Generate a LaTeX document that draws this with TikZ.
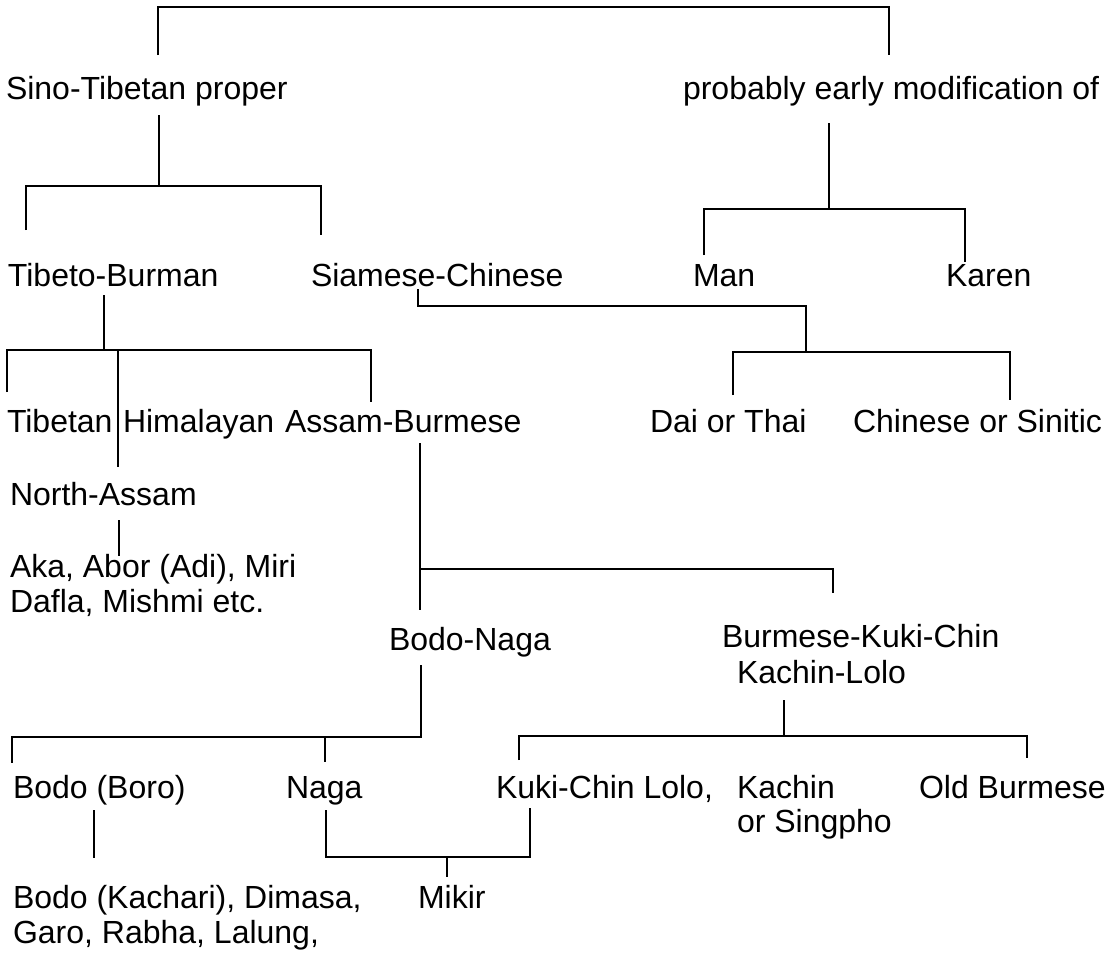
\documentclass[tikz,border=0pt]{standalone}
\usepackage{fontspec}
\setmainfont{Liberation Sans}
\begin{document}
\begin{tikzpicture}[x=1pt,y=-1pt,
  lbl/.style={anchor=base west,inner sep=0pt,outer sep=0pt,font=\fontsize{32}{36}\selectfont},
  ln/.style={line width=1.6pt,line join=miter}]
\fill[white] (0,0) rectangle (1118,954);
\useasboundingbox (0,0) rectangle (1118,954);
% texts
\node[lbl] (sino) at (6,99) {Sino-Tibetan proper};
\node[lbl] (prob) at (683,99) {probably early modification of};
\node[lbl] (tb) at (8,286) {Tibeto-Burman};
\node[lbl] (sc) at (311,286) {Siamese-Chinese};
\node[lbl] (man) at (693,286) {Man};
\node[lbl] (karen) at (946,286) {Karen};
\node[lbl] (tib) at (7,432) {Tibetan};
\node[lbl] (him) at (123,432) {Himalayan};
\node[lbl] (ab) at (285,432) {Assam-Burmese};
\node[lbl] (dai) at (650,432) {Dai or Thai};
\node[lbl] (chin) at (853,432) {Chinese or Sinitic};
\node[lbl] (na) at (10,505) {North-Assam};
\node[lbl] (aka) at (10,577) {Aka, Abor (Adi), Miri};
\node[lbl] (dafla) at (10,612) {Dafla, Mishmi etc.};
\node[lbl] (bn) at (389,650) {Bodo-Naga};
\node[lbl] (bkc) at (722,647) {Burmese-Kuki-Chin};
\node[lbl] (kl) at (737,683) {Kachin-Lolo};
\node[lbl] (bodo) at (13,798) {Bodo (Boro)};
\node[lbl] (naga) at (286,798) {Naga};
\node[lbl] (kuki) at (496,798) {Kuki-Chin Lolo,};
\node[lbl] (kachin) at (737,798) {Kachin};
\node[lbl] (sing) at (737,832) {or Singpho};
\node[lbl] (oldb) at (919,798) {Old Burmese};
\node[lbl] (bk) at (13,908) {Bodo (Kachari), Dimasa,};
\node[lbl] (garo) at (13,943) {Garo, Rabha, Lalung,};
\node[lbl] (mikir) at (418,908) {Mikir};
% connector points
\coordinate (a1) at (158,55); \coordinate (a2) at (158,7); \coordinate (a3) at (889,7); \coordinate (a4) at (889,55);
\coordinate (s1) at (159,115); \coordinate (s2) at (159,186);
\coordinate (s3) at (26,230); \coordinate (s4) at (26,186); \coordinate (s5) at (321,186); \coordinate (s6) at (321,235);
\coordinate (p1) at (829,123); \coordinate (p2) at (829,209);
\coordinate (p3) at (704,255); \coordinate (p4) at (704,209); \coordinate (p5) at (965,209); \coordinate (p6) at (965,262);
\coordinate (t1) at (104,295); \coordinate (t2) at (104,350);
\coordinate (t3) at (7,392); \coordinate (t4) at (7,350); \coordinate (t5) at (371,350); \coordinate (t6) at (371,402);
\coordinate (h1) at (118,350); \coordinate (h2) at (118,467);
\coordinate (c1) at (418,289); \coordinate (c2) at (418,306); \coordinate (c3) at (806,306); \coordinate (c4) at (806,352);
\coordinate (d1) at (733,395); \coordinate (d2) at (733,352); \coordinate (d3) at (1010,352); \coordinate (d4) at (1010,400);
\coordinate (n1) at (119,520); \coordinate (n2) at (119,556);
\coordinate (m1) at (420,443); \coordinate (m2) at (420,610);
\coordinate (m3) at (420,569); \coordinate (m4) at (833,569); \coordinate (m5) at (833,593);
\coordinate (b1) at (421,665); \coordinate (b2) at (421,737);
\coordinate (b3) at (12,763); \coordinate (b4) at (12,737);
\coordinate (b5) at (325,737); \coordinate (b6) at (325,762);
\coordinate (k1) at (784,700); \coordinate (k2) at (784,736);
\coordinate (k3) at (519,760); \coordinate (k4) at (519,736); \coordinate (k5) at (1027,736); \coordinate (k6) at (1027,758);
\coordinate (o1) at (94,810); \coordinate (o2) at (94,858);
\coordinate (g1) at (326,810); \coordinate (g2) at (326,857); \coordinate (g3) at (530,857); \coordinate (g4) at (530,808);
\coordinate (g5) at (447,857); \coordinate (g6) at (447,877);
% connectors
\draw[ln] (a1) -- (a2) -- (a3) -- (a4);
\draw[ln] (s1) -- (s2);
\draw[ln] (s3) -- (s4) -- (s5) -- (s6);
\draw[ln] (p1) -- (p2);
\draw[ln] (p3) -- (p4) -- (p5) -- (p6);
\draw[ln] (t1) -- (t2);
\draw[ln] (t3) -- (t4) -- (t5) -- (t6);
\draw[ln] (h1) -- (h2);
\draw[ln] (c1) -- (c2) -- (c3) -- (c4);
\draw[ln] (d1) -- (d2) -- (d3) -- (d4);
\draw[ln] (n1) -- (n2);
\draw[ln] (m1) -- (m2);
\draw[ln] (m3) -- (m4) -- (m5);
\draw[ln] (b1) -- (b2) -- (b4) -- (b3);
\draw[ln] (b5) -- (b6);
\draw[ln] (k1) -- (k2);
\draw[ln] (k3) -- (k4) -- (k5) -- (k6);
\draw[ln] (o1) -- (o2);
\draw[ln] (g1) -- (g2) -- (g3) -- (g4);
\draw[ln] (g5) -- (g6);
\end{tikzpicture}
\end{document}
